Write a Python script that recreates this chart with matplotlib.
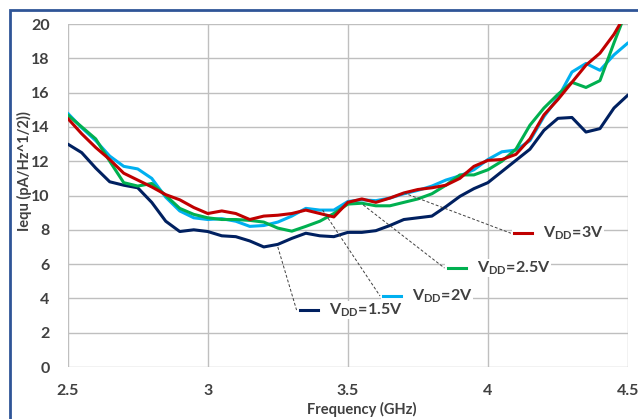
import numpy as np
import matplotlib
matplotlib.use("Agg")
from matplotlib import pyplot as plt
from matplotlib.patches import Rectangle

plt.rcParams['font.family'] = ['Lato', 'DejaVu Sans']
plt.rcParams['mathtext.fontset'] = 'custom'
plt.rcParams['mathtext.rm'] = 'Lato'
plt.rcParams['mathtext.bf'] = 'Lato:bold'

# frequency grid (GHz)
freq = [2.50, 2.55, 2.60, 2.65, 2.70, 2.75, 2.80, 2.85, 2.90, 2.95,
        3.00, 3.05, 3.10, 3.15, 3.20, 3.25, 3.30, 3.35, 3.40, 3.45,
        3.50, 3.55, 3.60, 3.65, 3.70, 3.75, 3.80, 3.85, 3.90, 3.95,
        4.00, 4.05, 4.10, 4.15, 4.20, 4.25, 4.30, 4.35, 4.40, 4.45, 4.50]

# Iequ values
v15 = [13.0, 12.5, 11.6, 10.8, 10.6, 10.45, 9.6, 8.5, 7.9, 8.0,
       7.9, 7.65, 7.6, 7.35, 7.0, 7.15, 7.5, 7.8, 7.65, 7.6,
       7.85, 7.85, 7.95, 8.25, 8.6, 8.7, 8.8, 9.35, 9.95, 10.4,
       10.75, 11.4, 12.05, 12.7, 13.8, 14.5, 14.55, 13.7, 13.9, 15.1, 15.86]
v2 = [14.8, 13.95, 13.2, 12.3, 11.7, 11.55, 11.0, 9.9, 9.1, 8.7,
      8.6, 8.65, 8.5, 8.2, 8.25, 8.45, 8.8, 9.25, 9.15, 9.15,
      9.65, 9.75, 9.7, 9.85, 10.1, 10.3, 10.55, 10.9, 11.15, 11.5,
      12.1, 12.55, 12.65, 13.2, 14.6, 15.7, 17.2, 17.7, 17.3, 18.2, 18.9]
v25 = [14.7, 14.0, 13.3, 12.0, 10.75, 10.55, 10.7, 10.0, 9.25, 8.9,
       8.7, 8.6, 8.6, 8.55, 8.45, 8.1, 7.92, 8.2, 8.5, 8.95,
       9.5, 9.55, 9.4, 9.4, 9.6, 9.8, 10.1, 10.6, 11.2, 11.2,
       11.5, 12.0, 12.7, 14.1, 15.1, 15.9, 16.6, 16.3, 16.7, 18.9, 21.0]
v3 = [14.5, 13.6, 12.8, 12.1, 11.3, 10.9, 10.5, 10.05, 9.75, 9.3,
      8.95, 9.1, 8.95, 8.6, 8.8, 8.85, 8.95, 9.15, 8.95, 8.75,
      9.6, 9.8, 9.6, 9.85, 10.15, 10.35, 10.45, 10.6, 11.0, 11.7,
      12.05, 12.1, 12.4, 13.3, 14.7, 15.6, 16.6, 17.6, 18.3, 19.4, 20.8]

names = ["1.5V", "2V", "2.5V", "3V"]
series = [v15, v2, v25, v3]
colors = ["#002060", "#00B0F0", "#00B050", "#C00000"]

# label callouts: point on curve -> label anchor (GHz, value)
lead_from = [(3.25, 7.0), (3.41, 9.15), (3.555, 9.45), (3.70, 10.15)]
lead_to = [(3.317, 3.32), (3.615, 4.14), (3.845, 5.77), (4.082, 7.8)]

txt = "#404040"
fig = plt.figure(figsize=(6.38, 4.19), dpi=100)
ax = fig.add_axes([0.1061, 0.1241, 0.8782, 0.8186])

for v, c in zip(series, colors):
    ax.plot(freq, v, color=c, lw=2.2, solid_capstyle='round', zorder=3)

ax.set_xlim(2.5, 4.5)
ax.set_ylim(0, 20)
ax.set_xticks([2.5, 3, 3.5, 4, 4.5])
ax.set_xticklabels(["2.5", "3", "3.5", "4", "4.5"])
ax.set_yticks(range(0, 21, 2))
ax.grid(True, color="#BFBFBF", lw=1.0)
ax.set_axisbelow(True)
for s in ax.spines.values():
    s.set_visible(False)
ax.tick_params(length=0, labelsize=11.5, labelcolor=txt)
ax.tick_params(axis='y', pad=13)
ax.tick_params(axis='x', pad=12)
for lab in ax.get_xticklabels() + ax.get_yticklabels():
    lab.set_fontweight('bold')

# axis titles
fig.text(362 / 638, 1 - 409 / 419, "Frequency (GHz)", fontsize=10.5, fontweight='bold',
         color=txt, ha='center', va='center')
fig.text(24 / 638, 1 - 171 / 419, "Iequ (pA/Hz^1/2))", fontsize=10.5, fontweight='bold',
         color=txt, ha='center', va='center', rotation=90)

# callout labels (lower voltages drawn on top)
seg = 0.064
for i, (name, c, (x0, y0), (x1, y1)) in enumerate(zip(names, colors, lead_from, lead_to)):
    z = 10 - 2 * i
    ax.plot([x0, x1], [y0, y1], color="#404040", lw=0.7, ls=(0, (3, 2)), zorder=4)
    ax.text(x1 + 0.005, y1, "        " + r"$\mathbf{V_{DD}}$=" + name, fontsize=11.5,
            fontweight='bold', color=txt, va='center', ha='left',
            bbox=dict(facecolor='white', edgecolor='none', pad=0.3), zorder=z)
    ax.plot([x1 + 0.012, x1 + 0.012 + seg], [y1, y1], color=c, lw=2.2, zorder=z + 1)

# outer frame
fig.patches.append(Rectangle((10 / 638, -0.1), 1.2, 1.1 - 10 / 419, transform=fig.transFigure,
                             fill=False, edgecolor="#2F5597", lw=2.0))

fig.savefig("out.png", dpi=100)
